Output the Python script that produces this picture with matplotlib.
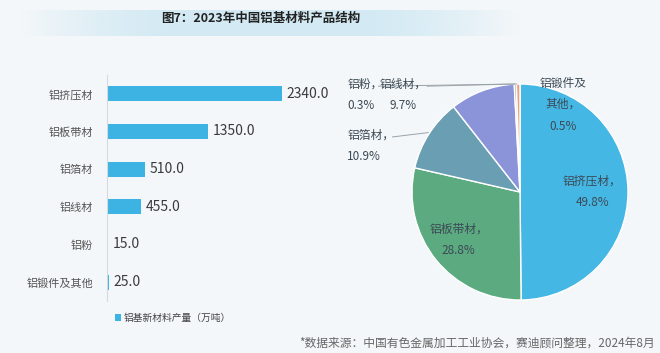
import matplotlib
matplotlib.use("Agg")
import matplotlib.pyplot as plt
import numpy as np

plt.rcParams['font.family'] = ['Noto Sans CJK SC', 'DejaVu Sans']

title = "图7：2023年中国铝基材料产品结构"
categories = ["铝挤压材", "铝板带材", "铝箔材", "铝线材", "铝粉", "铝锻件及其他"]
values = [2340.0, 1350.0, 510.0, 455.0, 15.0, 25.0]
legend_label = "铝基新材料产量（万吨）"
source = "*数据来源：中国有色金属加工工业协会，赛迪顾问整理，2024年8月"

# pie order (clockwise from 12 o'clock)
pie_order = ["铝挤压材", "铝板带材", "铝箔材", "铝线材", "铝粉", "铝锻件及其他"]
pie_colors = ["#45B7E5", "#5BAA80", "#699EB3", "#8C94D9", "#A9A9A9", "#E9A27B"]

bg = "#F4F7F9"
W, H = 660, 353
fig = plt.figure(figsize=(6.6, 3.53), dpi=100, facecolor=bg)

def fx(px):
    return px / W

def fy(py):
    return 1 - py / H

# title band
band = fig.add_axes([fx(20), fy(36), fx(500), 26 / H])
grad = np.linspace(-1, 1, 300)
alpha = np.clip(1.2 - np.abs(grad) ** 2 * 1.2, 0, 1)
img = np.zeros((1, 300, 4))
img[..., 0] = 0xD3 / 255
img[..., 1] = 0xEA / 255
img[..., 2] = 0xF4 / 255
img[..., 3] = alpha
band.imshow(img, aspect='auto', extent=[0, 1, 0, 1])
band.axis('off')
fig.text(fx(261), fy(18), title, ha='center', va='center', fontsize=9,
         fontweight='bold', color='#222222')

# bar chart
xmax = 3000
axb = fig.add_axes([fx(107), fy(301), fx(107 + 224) - fx(107), 226 / H])
axb.set_facecolor('none')
ypos = np.arange(len(categories))
bars = axb.barh(ypos, values, height=0.4, color="#3DB3E3")
axb.set_xlim(0, xmax)
axb.set_ylim(len(categories) - 0.5, -0.5)
axb.set_yticks(ypos)
axb.set_yticklabels(categories, fontsize=8, color='#555555')
axb.tick_params(axis='y', length=0, pad=10)
axb.set_xticks([])
for sp in ['top', 'right', 'bottom']:
    axb.spines[sp].set_visible(False)
axb.spines['left'].set_color('#D5DADE')
axb.spines['left'].set_linewidth(0.8)
for yy, v in zip(ypos, values):
    axb.text(v + 60, yy, f"{v:.1f}", va='center', ha='left', fontsize=10,
             color='#3A3A3A')

leg = fig.legend(handles=[bars], labels=[legend_label], loc='center left',
                 bbox_to_anchor=(fx(106), fy(318)), frameon=False, fontsize=7,
                 handlelength=0.6, handleheight=0.8, handletextpad=0.3,
                 labelcolor='#444444')

# pie chart
cx, cy, r = 520, 192, 108
axp = fig.add_axes([fx(cx - r), fy(cy + r), 2 * r / W, 2 * r / H])
axp.set_facecolor('none')
pie_vals = [values[categories.index(c)] for c in pie_order]
axp.pie(pie_vals, colors=pie_colors, startangle=90, counterclock=False,
        radius=1, wedgeprops=dict(edgecolor='white', linewidth=1.0))
axp.set_xlim(-1, 1)
axp.set_ylim(-1, 1)
axp.set_aspect('equal')
axp.axis('off')

total = sum(pie_vals)
pct = {c: v / total * 100 for c, v in zip(pie_order, pie_vals)}
lab_color = '#3C4A55'
fs = 8.5
ls = 1.85
# inside labels
axp.text(0.67, 0.0, f"铝挤压材，\n{pct['铝挤压材']:.1f}%", ha='center', va='center',
         fontsize=fs, color=lab_color, linespacing=ls)
axp.text(-0.57, -0.44, f"铝板带材，\n{pct['铝板带材']:.1f}%", ha='center', va='center',
         fontsize=fs, color=lab_color, linespacing=ls)
axp.text(0.40, 0.81, f"铝锻件及\n其他，\n{pct['铝锻件及其他']:.1f}%", ha='center',
         va='center', fontsize=fs, color=lab_color, linespacing=ls)
# outside labels
axp.text(-1.60, 0.43, f"铝箔材，\n{pct['铝箔材']:.1f}%", ha='left', va='center',
         fontsize=fs, color=lab_color, linespacing=ls, clip_on=False)
axp.text(-1.60, 0.90, f"铝粉，\n{pct['铝粉']:.1f}%", ha='left', va='center',
         fontsize=fs, color=lab_color, linespacing=ls, clip_on=False)
axp.text(-1.08, 0.90, f"铝线材，\n{pct['铝线材']:.1f}%", ha='center', va='center',
         fontsize=fs, color=lab_color, linespacing=ls, clip_on=False)
lc = '#9AA3AA'
axp.plot([-1.18, -0.85], [0.51, 0.55], color=lc, lw=0.7, clip_on=False)
axp.plot([-1.31, -0.03], [0.98, 1.0], color=lc, lw=0.7, clip_on=False)
axp.plot([-0.86, -0.05], [0.98, 1.0], color=lc, lw=0.7, clip_on=False)

fig.text(fx(655), fy(343), source, ha='right', va='center', fontsize=8.5,
         color='#666666')

fig.savefig("out.png", dpi=100, facecolor=bg)
